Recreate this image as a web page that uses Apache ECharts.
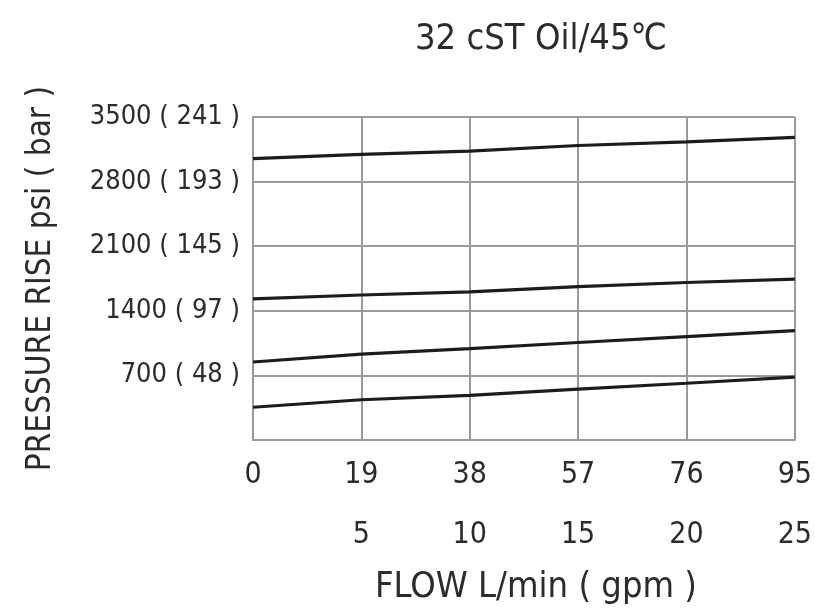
<!DOCTYPE html>
<html>
<head>
<meta charset="utf-8">
<script src="https://cdn.jsdelivr.net/npm/echarts@6/dist/echarts.min.js"></script>
<style>
html,body{margin:0;padding:0;background:#fff;}
#c{width:815px;height:611px;}
</style>
</head>
<body>
<div id="c"></div>
<script>
var titleText = '32 cST Oil/45\u2103';
var xTitle = 'FLOW L/min ( gpm )';
var yTitle = 'PRESSURE RISE psi ( bar )';
var flow = [0, 19, 38, 57, 76, 95];
var gpmLabels = ['', '5', '10', '15', '20', '25'];
var psiTicks = [0, 700, 1400, 2100, 2800, 3500];
var barLabels = ['', '48', '97', '145', '193', '241'];
var curve1 = [3049, 3095, 3130, 3191, 3230, 3280];
var curve2 = [1529, 1572, 1605, 1662, 1707, 1743];
var curve3 = [846, 932, 990, 1057, 1121, 1185];
var curve4 = [356, 437, 485, 552, 616, 683];

var FONT = "'Liberation Sans Narrow', 'DejaVu Sans Condensed', 'Arial Narrow', sans-serif";
var TXT = '#2b2b2b';
var GRIDC = '#9a9a9a';

function pairs(ys) { return flow.map(function (x, i) { return [x, ys[i]]; }); }
function mkSeries(ys) {
  return {
    type: 'line', data: pairs(ys), symbol: 'none', smooth: false,
    lineStyle: { color: '#1c1c1c', width: 3.2 }, silent: true
  };
}

var chart = echarts.init(document.getElementById('c'), null, { renderer: 'canvas' });
chart.setOption({
  animation: false,
  backgroundColor: '#ffffff',
  title: {
    text: titleText, left: 410, top: 17,
    textStyle: { fontFamily: FONT, fontSize: 36, fontWeight: 'normal', color: TXT }
  },
  grid: { left: 253, right: 12, top: 117, bottom: 166, containLabel: false },
  xAxis: {
    type: 'value', min: 0, max: 95, interval: 19,
    name: xTitle, nameLocation: 'middle', nameGap: 119,
    nameTextStyle: { fontFamily: FONT, fontSize: 36, color: TXT, padding: [0, 0, 0, 24] },
    axisLine: { show: true, lineStyle: { color: GRIDC, width: 2 } },
    axisTick: { show: false },
    splitLine: { show: true, lineStyle: { color: GRIDC, width: 2 } },
    axisLabel: {
      margin: 5, fontFamily: FONT, fontSize: 30, color: TXT, lineHeight: 60,
      formatter: function (v) {
        var i = flow.indexOf(v);
        if (i < 0) return '';
        return gpmLabels[i] ? (v + '\n' + gpmLabels[i]) : String(v);
      }
    }
  },
  yAxis: {
    type: 'value', min: 0, max: 3500, interval: 700,
    name: yTitle, nameLocation: 'middle', nameGap: 195, nameRotate: 90,
    nameTextStyle: { fontFamily: FONT, fontSize: 33, color: TXT },
    axisLine: { show: true, lineStyle: { color: GRIDC, width: 2 } },
    axisTick: { show: false },
    splitLine: { show: true, lineStyle: { color: GRIDC, width: 2 } },
    axisLabel: {
      margin: 13, fontFamily: FONT, fontSize: 27, color: TXT,
      formatter: function (v) {
        var i = psiTicks.indexOf(v);
        if (i <= 0) return '';
        return v + ' ( ' + barLabels[i] + ' )';
      }
    }
  },
  series: [mkSeries(curve1), mkSeries(curve2), mkSeries(curve3), mkSeries(curve4)]
});
</script>
</body>
</html>
